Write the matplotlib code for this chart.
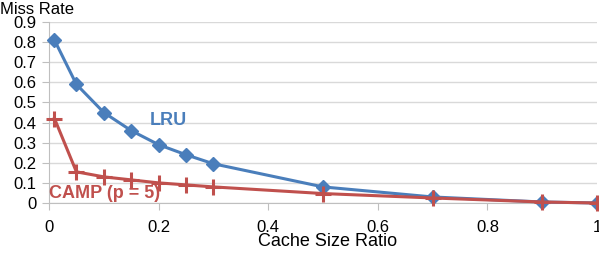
import matplotlib
matplotlib.use("Agg")
import matplotlib.pyplot as plt

cache_ratio = [0.01, 0.05, 0.1, 0.15, 0.2, 0.25, 0.3, 0.5, 0.7, 0.9, 1.0]
lru_miss = [0.81, 0.59, 0.45, 0.36, 0.29, 0.24, 0.195, 0.08, 0.03, 0.005, 0.0]
camp_miss = [0.42, 0.155, 0.13, 0.115, 0.10, 0.09, 0.08, 0.047, 0.025, 0.005, 0.0]
y_ticks = [0, 0.1, 0.2, 0.3, 0.4, 0.5, 0.6, 0.7, 0.8, 0.9]
y_labels = ["0", "0.1", "0.2", "0.3", "0.4", "0.5", "0.6", "0.7", "0.8", "0.9"]
x_ticks = [0, 0.2, 0.4, 0.6, 0.8, 1.0]
x_labels = ["0", "0.2", "0.4", "0.6", "0.8", "1"]

blue = "#4A7EBB"
red = "#C0504D"
grid_c = "#D9D9D9"
axis_c = "#BFBFBF"

plt.rcParams['font.family'] = ['Liberation Sans', 'DejaVu Sans']

fig = plt.figure(figsize=(5.99, 2.56), dpi=100)
ax = fig.add_axes([49/599, 53/256, 548/599, 181/256])

ax.plot(cache_ratio, lru_miss, color=blue, lw=2.2, marker="D", markersize=7,
        markerfacecolor=blue, markeredgecolor=blue, zorder=3, clip_on=False)
ax.plot(cache_ratio, camp_miss, color=red, lw=2.2, marker="+", markersize=12,
        markeredgewidth=2.2, zorder=4, clip_on=False)

ax.set_xlim(0, 1.0)
ax.set_ylim(0, 0.9)
ax.set_yticks(y_ticks)
ax.set_yticklabels(y_labels)
ax.set_xticks(x_ticks)
ax.set_xticklabels(x_labels)
ax.tick_params(axis="y", length=5, color=axis_c, labelsize=12, pad=4)
ax.tick_params(axis="x", length=5, color=axis_c, labelsize=12, pad=7)
ax.yaxis.grid(True, color=grid_c, lw=1)
ax.set_axisbelow(True)
for s in ["top", "right"]:
    ax.spines[s].set_visible(False)
ax.spines["left"].set_color(axis_c)
ax.spines["bottom"].set_color(axis_c)

ax.text(0.217, 0.41, "LRU", color=blue, fontsize=13, fontweight="bold",
        ha="center", va="center")
ax.text(0.0, 0.045, "CAMP (p = 5)", color=red, fontsize=13, fontweight="bold",
        ha="left", va="center")

fig.text(0, 247/256, "Miss Rate", fontsize=12, ha="left", va="center")
fig.text(328/599, 14/256, "Cache Size Ratio", fontsize=13, ha="center", va="center")

fig.savefig("out.png", dpi=100)
